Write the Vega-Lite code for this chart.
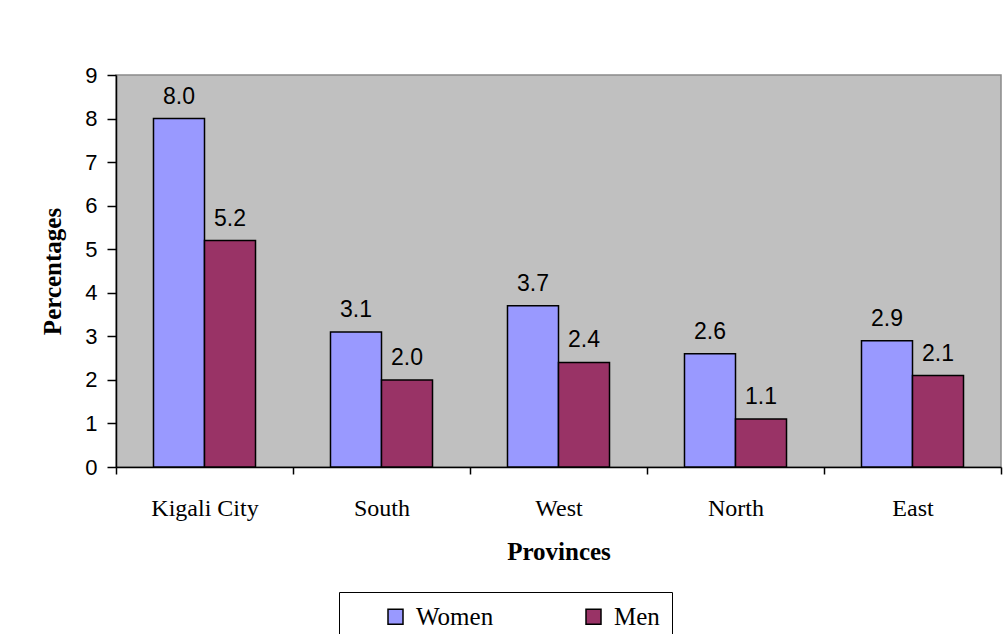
{
  "$schema": "https://vega.github.io/schema/vega-lite/v6.json",
  "width": 885,
  "height": 392,
  "autosize": {"type": "none"},
  "padding": {"left": 116, "top": 75, "right": 3, "bottom": 167},
  "background": "white",
  "config": {
    "view": {"fill": "#C0C0C0", "stroke": "#8a8a8a", "strokeWidth": 1.5},
    "axis": {"grid": false, "domainColor": "black", "tickColor": "black", "labelColor": "black", "titleColor": "black", "domainWidth": 1.5, "tickWidth": 1.5},
    "legend": {"strokeColor": "black", "labelFont": "Liberation Serif", "labelFontSize": 25, "labelColor": "black"}
  },
  "data": {
    "values": [
      {"province": "Kigali City", "sex": "Women", "pct": 8.0},
      {"province": "Kigali City", "sex": "Men", "pct": 5.2},
      {"province": "South", "sex": "Women", "pct": 3.1},
      {"province": "South", "sex": "Men", "pct": 2.0},
      {"province": "West", "sex": "Women", "pct": 3.7},
      {"province": "West", "sex": "Men", "pct": 2.4},
      {"province": "North", "sex": "Women", "pct": 2.6},
      {"province": "North", "sex": "Men", "pct": 1.1},
      {"province": "East", "sex": "Women", "pct": 2.9},
      {"province": "East", "sex": "Men", "pct": 2.1}
    ]
  },
  "encoding": {
    "x": {
      "field": "province",
      "type": "nominal",
      "sort": ["Kigali City", "South", "West", "North", "East"],
      "scale": {"paddingInner": 0, "paddingOuter": 0},
      "axis": {
        "title": "Provinces",
        "labelAngle": 0,
        "tickBand": "extent",
        "tickSize": 7,
        "labelFont": "Liberation Serif",
        "labelFontSize": 24,
        "labelPadding": 22,
        "titleFont": "Liberation Serif",
        "titleFontSize": 25,
        "titleFontWeight": "bold",
        "titlePadding": 19
      }
    },
    "xOffset": {
      "field": "sex",
      "type": "nominal",
      "sort": ["Women", "Men"],
      "scale": {"paddingInner": 0, "paddingOuter": 0.735}
    },
    "y": {
      "field": "pct",
      "type": "quantitative",
      "scale": {"domain": [0, 9], "nice": false},
      "axis": {
        "title": "Percentages",
        "values": [0, 1, 2, 3, 4, 5, 6, 7, 8, 9],
        "tickSize": 9,
        "labelFont": "Liberation Sans",
        "labelFontSize": 22,
        "labelPadding": 10,
        "titleFont": "Liberation Serif",
        "titleFontSize": 25,
        "titleFontWeight": "bold",
        "titlePadding": 19
      }
    }
  },
  "layer": [
    {
      "mark": {"type": "bar", "stroke": "black", "strokeWidth": 1.5},
      "encoding": {
        "color": {
          "field": "sex",
          "type": "nominal",
          "scale": {"domain": ["Women", "Men"], "range": ["#9999FF", "#993366"]},
          "legend": {
            "title": " ",
            "titleOrient": "left",
            "titleFontSize": 25,
            "titlePadding": 32,
            "orient": "none",
            "legendX": 223,
            "legendY": 517,
            "direction": "horizontal",
            "columns": 2,
            "gridAlign": "all",
            "symbolType": "square",
            "symbolSize": 225,
            "symbolStrokeColor": "black",
            "symbolStrokeWidth": 1.5,
            "labelFont": "Liberation Serif",
            "labelFontSize": 25,
            "labelColor": "black",
            "labelOffset": 8,
            "columnPadding": 87,
            "padding": 12,
            "encode": {
              "legend": {"update": {"width": {"value": 361}}},
              "labels": {"update": {"font": {"value": "Liberation Serif"}, "fontSize": {"value": 25}}}
            }
          }
        }
      }
    },
    {
      "mark": {"type": "text", "baseline": "alphabetic", "dy": -15, "font": "Liberation Sans", "fontSize": 23, "color": "black"},
      "encoding": {"text": {"field": "pct", "type": "quantitative", "format": ".1f"}}
    }
  ]
}
